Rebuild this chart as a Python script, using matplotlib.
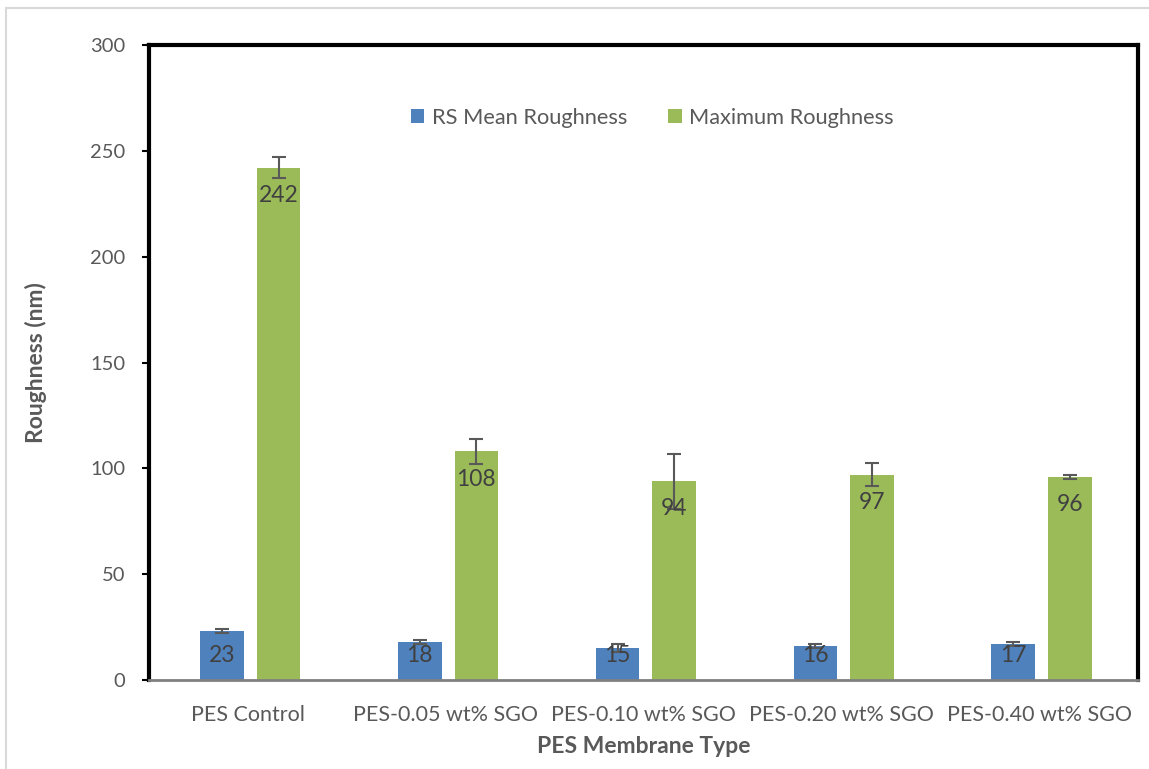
import matplotlib
matplotlib.use("Agg")
import matplotlib.pyplot as plt
import numpy as np
from matplotlib.patches import Rectangle

plt.rcParams['font.family'] = ['Lato', 'DejaVu Sans']

categories = ["PES Control", "PES-0.05 wt% SGO", "PES-0.10 wt% SGO",
              "PES-0.20 wt% SGO", "PES-0.40 wt% SGO"]
mean_roughness = [23, 18, 15, 16, 17]
mean_err = [0.9, 1.0, 2.0, 1.0, 0.8]
max_roughness = [242, 108, 94, 97, 96]
max_err = [5, 6, 13, 5.5, 1]
yticks = [0, 50, 100, 150, 200, 250, 300]

BLUE = "#4F81BD"
GREEN = "#9BBB59"
TEXT = "#595959"
LABEL = "#404040"

W, H = 1149, 769
fig = plt.figure(figsize=(W / 100, H / 100), dpi=100)
ax = fig.add_axes([149 / W, 1 - 680 / H, (1138 - 149) / W, (680 - 45) / H])

# outer chart-area frame
fig.patches.append(Rectangle((6 / W, -0.05), 1.1, 1 - 8 / H + 0.05,
                             transform=fig.transFigure, fill=False,
                             edgecolor="#D9D9D9", linewidth=1.5, zorder=0))

x = np.arange(len(categories))
bw = 0.22
shift = 0.012
off = 0.143

err_kw = dict(ecolor="#595959", elinewidth=1.5, capsize=5, capthick=1.5)
b1 = ax.bar(x - off + shift, mean_roughness, bw, color=BLUE, yerr=mean_err,
            error_kw=err_kw, label="RS Mean Roughness", zorder=2)
b2 = ax.bar(x + off + shift, max_roughness, bw, color=GREEN, yerr=max_err,
            error_kw=err_kw, label="Maximum Roughness", zorder=2)

# value labels sit just inside the bar end, but never below a floor near the axis
LABEL_DROP = 13.2
LABEL_FLOOR = 11.8
for bars, vals in ((b1, mean_roughness), (b2, max_roughness)):
    for rect, v in zip(bars, vals):
        ax.text(rect.get_x() + rect.get_width() / 2,
                max(v - LABEL_DROP, LABEL_FLOOR), str(v),
                ha="center", va="center", fontsize=16.5, color=LABEL,
                zorder=3)

ax.set_xlim(-0.5, len(categories) - 0.5)
ax.set_ylim(0, 300)
ax.set_yticks(yticks)
ax.set_xticks(x)
ax.set_xticklabels(categories)
ax.tick_params(axis="y", direction="out", length=5, width=1.5, color="black",
               labelsize=14.5, labelcolor=TEXT, pad=12)
ax.tick_params(axis="x", length=0, labelsize=15.5, labelcolor=TEXT, pad=18)

for side in ("left", "top", "right"):
    ax.spines[side].set_linewidth(3)
    ax.spines[side].set_color("black")
ax.spines["bottom"].set_linewidth(2)
ax.spines["bottom"].set_color("#808080")

ax.set_ylabel("Roughness (nm)", fontsize=16.5, fontweight="bold", color=TEXT,
              labelpad=31)
ax.set_xlabel("PES Membrane Type", fontsize=16.5, fontweight="bold",
              color=TEXT, labelpad=8)

ax.legend(loc="center", bbox_to_anchor=(0.509, 0.885), ncol=2,
          frameon=False, fontsize=15.7, labelcolor=TEXT, handlelength=0.6,
          handleheight=0.6, columnspacing=1.9, handletextpad=0.35)

fig.savefig("out.png", dpi=100, facecolor="white")
